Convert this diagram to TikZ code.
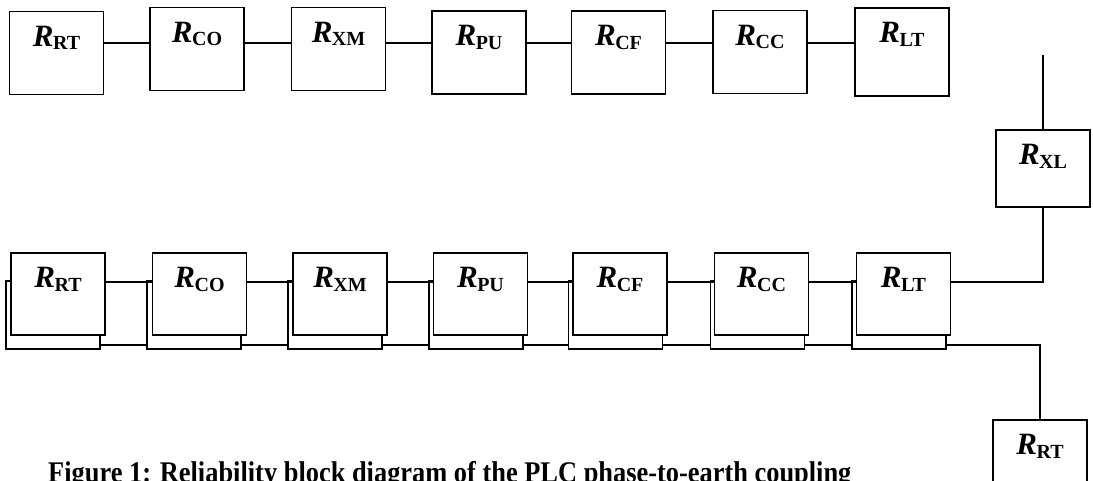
\documentclass[tikz,border=0pt]{standalone}
\usepackage{fontspec}
\setmainfont{Liberation Serif}
\newcommand{\Rsub}[1]{{\fontsize{31}{31}\selectfont\bfseries\itshape R}\kern-0.5pt\raisebox{-3.5pt}{\fontsize{20}{20}\selectfont\bfseries #1}}
\begin{document}
\begin{tikzpicture}[x=1pt,y=-1pt,
  blk/.style={draw, fill=white, line width=1.7pt, minimum width=94pt, minimum height=83pt, inner sep=0pt,
    label={[anchor=north, yshift=-15pt, inner sep=0pt]north:\Rsub{#1}}},
  bak/.style={draw, fill=white, line width=1.7pt, minimum width=94pt, minimum height=68pt, inner sep=0pt},
  wire/.style={line width=1.7pt}]
\useasboundingbox (0,0) rectangle (1093,481);
\clip (0,0) rectangle (1093,481);
% top row
\node[blk={RT}] (t1) at (56.5,53) {};
\node[blk={CO}] (t2) at (197,49) {};
\node[blk={XM}] (t3) at (338.5,49) {};
\node[blk={PU}] (t4) at (479,52.5) {};
\node[blk={CF}] (t5) at (618.5,52.5) {};
\node[blk={CC}] (t6) at (760,52) {};
\node[blk={LT}, minimum height=88pt] (t7) at (902,52) {};
\coordinate (ty) at (0,43);
\draw[wire] (t1.east |- ty) -- (t2.west |- ty);
\draw[wire] (t2.east |- ty) -- (t3.west |- ty);
\draw[wire] (t3.east |- ty) -- (t4.west |- ty);
\draw[wire] (t4.east |- ty) -- (t5.west |- ty);
\draw[wire] (t5.east |- ty) -- (t6.west |- ty);
\draw[wire] (t6.east |- ty) -- (t7.west |- ty);
% R_XL
\node[blk={XL}, minimum height=77pt] (xl) at (1043,168.5) {};
\coordinate (xtop) at (1043,55);
\draw[wire] (xtop) -- (xl.north);
% bottom row, back boxes
\node[bak] (b1) at (53,315) {};
\node[bak] (b2) at (194,315) {};
\node[bak] (b3) at (335,315) {};
\node[bak] (b4) at (476,315) {};
\node[bak] (b5) at (615.5,315) {};
\node[bak] (b6) at (757.5,315) {};
\node[bak] (b7) at (899,315) {};
% bottom row, front boxes
\node[blk={RT}, minimum height=82pt] (f1) at (58,294) {};
\node[blk={CO}, minimum height=82pt] (f2) at (199.5,294) {};
\node[blk={XM}, minimum height=82pt] (f3) at (340,294) {};
\node[blk={PU}, minimum height=82pt] (f4) at (480.5,294) {};
\node[blk={CF}, minimum height=82pt] (f5) at (620,294) {};
\node[blk={CC}, minimum height=82pt] (f6) at (761.5,294) {};
\node[blk={LT}, minimum height=82pt] (f7) at (903.5,294) {};
% bottom R_RT
\node[blk={RT}, minimum height=82pt] (r3) at (1040,461) {};
\coordinate (uy) at (0,282);
\coordinate (ly) at (0,345);
\draw[wire] (f1.east |- uy) -- (f2.west |- uy);
\draw[wire] (f2.east |- uy) -- (f3.west |- uy);
\draw[wire] (f3.east |- uy) -- (f4.west |- uy);
\draw[wire] (f4.east |- uy) -- (f5.west |- uy);
\draw[wire] (f5.east |- uy) -- (f6.west |- uy);
\draw[wire] (f6.east |- uy) -- (f7.west |- uy);
\draw[wire] (f7.east |- uy) -| (xl.south);
\draw[wire] (b1.east |- ly) -- (b2.west |- ly);
\draw[wire] (b2.east |- ly) -- (b3.west |- ly);
\draw[wire] (b3.east |- ly) -- (b4.west |- ly);
\draw[wire] (b4.east |- ly) -- (b5.west |- ly);
\draw[wire] (b5.east |- ly) -- (b6.west |- ly);
\draw[wire] (b6.east |- ly) -- (b7.west |- ly);
\draw[wire] (b7.east |- ly) -| (r3.north);
% caption
\node[anchor=base west, inner sep=0pt, xscale=0.88, font=\fontsize{30}{30}\selectfont\bfseries] (cap) at (48,482) {Figure 1: Reliability block diagram of the PLC phase-to-earth coupling};
\end{tikzpicture}
\end{document}
